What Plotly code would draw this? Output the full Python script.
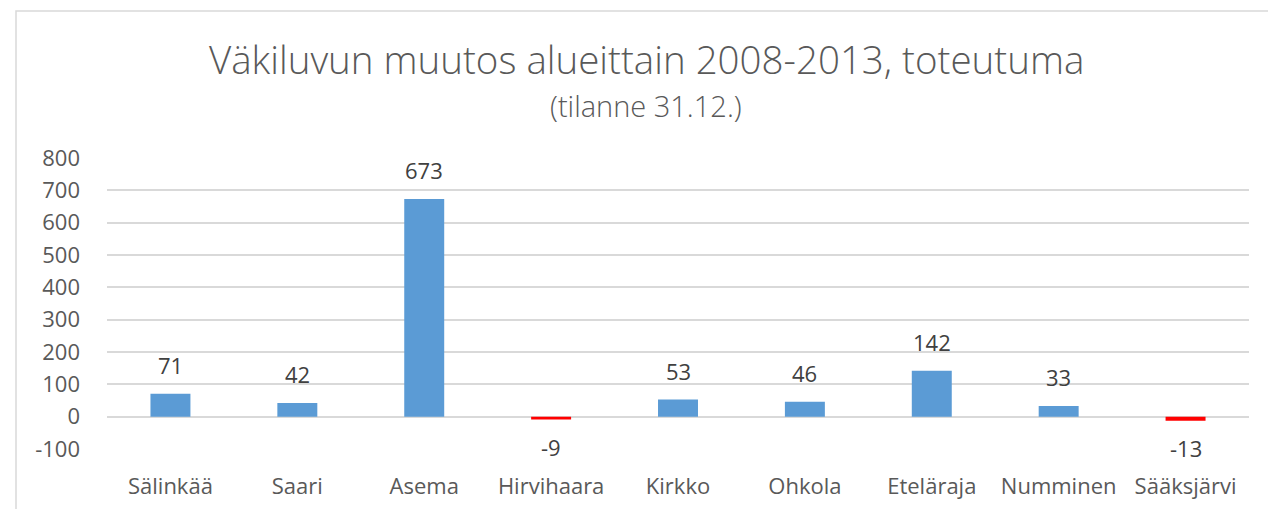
import plotly.graph_objects as go

categories = ["Sälinkää", "Saari", "Asema", "Hirvihaara", "Kirkko", "Ohkola", "Eteläraja", "Numminen", "Sääksjärvi"]
values = [71, 42, 673, -9, 53, 46, 142, 33, -13]
title_text = "Väkiluvun muutos alueittain 2008-2013, toteutuma"
subtitle_text = "(tilanne 31.12.)"
y_ticks = [-100, 0, 100, 200, 300, 400, 500, 600, 700, 800]

FONT = "Open Sans"
GREY = "#595959"
colors = ["#5B9BD5" if v >= 0 else "#FF0000" for v in values]

fig = go.Figure()
fig.add_trace(go.Bar(x=categories, y=values, marker=dict(color=colors, line=dict(width=0)),
                     width=0.315, hoverinfo="x+y"))

W, H = 1268, 509
L, R, T, B = 107, 19, 158, 60
pw = W - L - R
ph = H - T - B

def px_x(px):
    return (px - L) / pw

def px_y(py):
    return (H - B - py) / ph

annotations = []
for c, v in zip(categories, values):
    annotations.append(dict(x=c, y=v, xref="x", yref="y", text=str(v), showarrow=False,
                            yanchor="middle", yshift=29 if v >= 0 else -27,
                            font=dict(family=FONT, size=22, color="#404040")))
annotations.append(dict(x=px_x(646), y=px_y(59), xref="paper", yref="paper", text=title_text,
                        showarrow=False, xanchor="center", yanchor="middle",
                        font=dict(family=FONT, size=38.5, color=GREY, weight=300)))
annotations.append(dict(x=px_x(646), y=px_y(105), xref="paper", yref="paper", text=subtitle_text,
                        showarrow=False, xanchor="center", yanchor="middle",
                        font=dict(family=FONT, size=29, color=GREY, weight=300)))

fig.update_layout(
    width=W, height=H,
    margin=dict(l=L, r=R, t=T, b=B, pad=0, autoexpand=False),
    paper_bgcolor="white", plot_bgcolor="white",
    showlegend=False,
    annotations=annotations,
    shapes=[dict(type="rect", xref="paper", yref="paper",
                 x0=px_x(16), x1=px_x(1300), y0=px_y(540), y1=px_y(11),
                 line=dict(color="#D9D9D9", width=1.5), fillcolor="rgba(0,0,0,0)", layer="below")],
    xaxis=dict(showgrid=False, showline=False, ticks="", ticklabelstandoff=22, automargin=False,
               tickfont=dict(family=FONT, size=22, color=GREY)),
    yaxis=dict(range=[-100, 800], tickvals=y_ticks, ticktext=[str(v) for v in y_ticks],
               showgrid=True, gridcolor="#D9D9D9", gridwidth=1.5, automargin=False,
               zeroline=True, zerolinecolor="#D9D9D9", zerolinewidth=1.5, showline=False,
               ticks="", ticklabelstandoff=26,
               tickfont=dict(family=FONT, size=22, color=GREY)),
    bargap=0.685,
)

fig.write_html("out.html", config={"displayModeBar": False},
               post_script="document.body.style.margin='0';")
